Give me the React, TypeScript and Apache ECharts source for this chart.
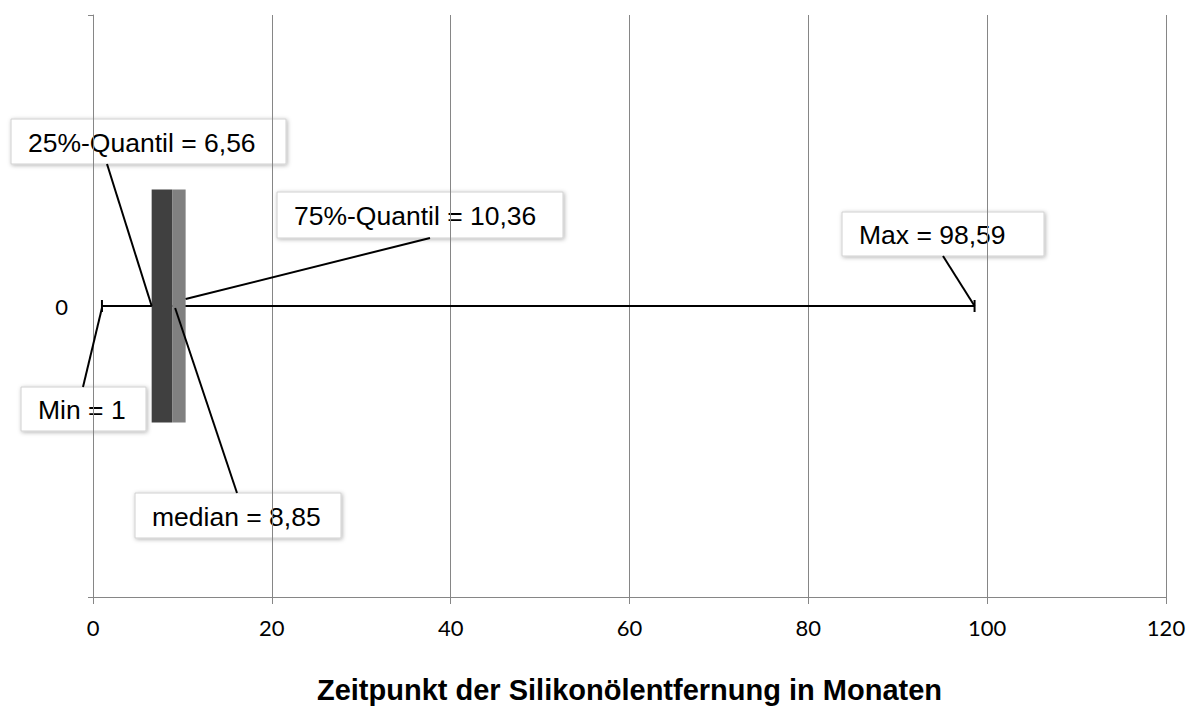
import React, { useEffect, useRef } from "react";
import * as echarts from "echarts";

const categories = ["0"];
const minVals = [1];
const q1Vals = [6.56];
const medianVals = [8.85];
const q3Vals = [10.36];
const maxVals = [98.59];
const xMin = 0;
const xMax = 120;
const xInterval = 20;
const axisTitle = "Zeitpunkt der Silikonölentfernung in Monaten";

const fmt = (v: number) => String(v).replace(".", ",");

export default function App() {
  const ref = useRef<HTMLDivElement>(null);
  useEffect(() => {
    if (!ref.current) return;
    const chart = echarts.init(ref.current, undefined, { renderer: "svg" });
    const grey = "#868686";
    const gridPos = { left: 93, right: 23, top: 15, bottom: 114, containLabel: false };
    chart.setOption({
      animation: false,
      grid: [gridPos, gridPos],
      xAxis: [
        {
          type: "value",
          gridIndex: 0,
          min: xMin,
          max: xMax,
          interval: xInterval,
          axisLine: { show: true, lineStyle: { color: grey, width: 1 } },
          axisTick: { show: true, length: 7, lineStyle: { color: grey } },
          splitLine: { show: false },
          axisLabel: { color: "#000", fontSize: 22, fontFamily: "Lato", margin: 19 },
          name: axisTitle,
          nameLocation: "middle",
          nameGap: 78,
          nameTextStyle: { color: "#000", fontSize: 29, fontWeight: "bold", fontFamily: "Liberation Sans" },
        },
        {
          type: "value",
          gridIndex: 1,
          z: 5,
          min: xMin,
          max: xMax,
          interval: xInterval,
          axisLine: { show: false },
          axisTick: { show: false },
          axisLabel: { show: false },
          splitLine: { show: true, lineStyle: { color: grey, width: 1 } },
        },
      ],
      yAxis: [
        {
          type: "category",
          gridIndex: 0,
          data: categories,
          axisLine: { show: true, lineStyle: { color: grey, width: 1 } },
          axisTick: { show: true, length: 5, lineStyle: { color: grey } },
          splitLine: { show: false },
          axisLabel: { color: "#000", fontSize: 22, fontFamily: "Lato", margin: 25 },
        },
        {
          type: "category",
          gridIndex: 1,
          data: categories,
          show: false,
        },
      ],
      series: [
        {
          type: "custom",
          z: 8,
          xAxisIndex: 0,
          yAxisIndex: 0,
          data: categories.map((c, i) => [minVals[i], maxVals[i], i]),
          renderItem: (params: any, api: any) => {
            const p1 = api.coord([api.value(0), api.value(2)]);
            const p2 = api.coord([api.value(1), api.value(2)]);
            const cap = 6;
            const st = { stroke: "#000", lineWidth: 2 };
            return {
              type: "group",
              children: [
                { type: "line", shape: { x1: p1[0], y1: p1[1], x2: p2[0], y2: p2[1] }, style: st },
                { type: "line", shape: { x1: p1[0], y1: p1[1] - cap, x2: p1[0], y2: p1[1] + cap }, style: st },
                { type: "line", shape: { x1: p2[0], y1: p2[1] - cap, x2: p2[0], y2: p2[1] + cap }, style: st },
              ],
            };
          },
        },
        {
          type: "bar",
          stack: "box",
          z: 9,
          barWidth: "40%",
          data: q1Vals,
          itemStyle: { color: "rgba(0,0,0,0)" },
          silent: true,
        },
        {
          type: "bar",
          stack: "box",
          z: 9,
          barWidth: "40%",
          data: q1Vals.map((v, i) => +(medianVals[i] - v).toFixed(4)),
          itemStyle: { color: "#404040" },
        },
        {
          type: "bar",
          stack: "box",
          z: 9,
          barWidth: "40%",
          data: medianVals.map((v, i) => +(q3Vals[i] - v).toFixed(4)),
          itemStyle: { color: "#808080" },
        },
      ],
    });

    const px = (v: number, dx = 0, dy = 0) => {
      const p = chart.convertToPixel({ gridIndex: 0 }, [v, 0]) as number[];
      return [p[0] + dx, p[1] + dy];
    };

    const callouts = [
      { text: `25%-Quantil = ${fmt(q1Vals[0])}`, box: [11, 119, 275, 45], from: [107, 164], to: px(q1Vals[0], 0, 0) },
      { text: `75%-Quantil = ${fmt(q3Vals[0])}`, box: [277, 192, 286, 46], from: [430, 238], to: px(q3Vals[0], 0, -7) },
      { text: `Max = ${fmt(maxVals[0])}`, box: [842, 212, 202, 44], from: [943, 256], to: px(maxVals[0]) },
      { text: `Min = ${fmt(minVals[0])}`, box: [21, 387, 125, 44], from: [83, 387], to: px(minVals[0], 0, 2) },
      { text: `median = ${fmt(medianVals[0])}`, box: [135, 493, 206, 45], from: [237, 493], to: px(medianVals[0], 3, 2) },
    ];

    const elements: any[] = [];
    callouts.forEach((c) => {
      const [x, y, w, h] = c.box;
      elements.push({
        type: "rect",
        z: 0,
        shape: { x, y, width: w, height: h },
        style: {
          fill: "#fff",
          stroke: "#d0d0d0",
          lineWidth: 1,
          shadowBlur: 4,
          shadowColor: "rgba(0,0,0,0.3)",
          shadowOffsetX: 1,
          shadowOffsetY: 1,
        },
      });
      elements.push({
        type: "text",
        z: 0,
        x: x + 17,
        y: y + h / 2 + 1,
        style: {
          text: c.text,
          fill: "#000",
          fontSize: 26.5,
          fontFamily: "Liberation Sans",
          align: "left",
          verticalAlign: "middle",
        },
      });
      elements.push({
        type: "line",
        z: 20,
        shape: { x1: c.from[0], y1: c.from[1], x2: c.to[0], y2: c.to[1] },
        style: { stroke: "#000", lineWidth: 2 },
      });
    });
    chart.setOption({ graphic: { elements } });

    return () => chart.dispose();
  }, []);
  return (
    <div
      ref={ref}
      style={{ position: "fixed", left: 0, top: 0, width: 1189, height: 711, background: "#fff" }}
    />
  );
}
